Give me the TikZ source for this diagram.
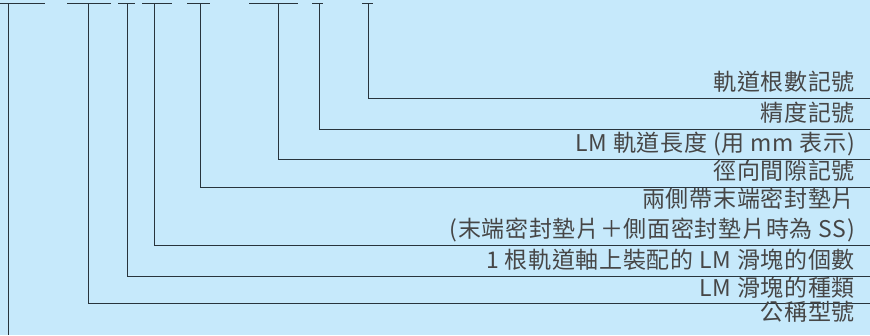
\documentclass[tikz,border=0pt]{standalone}
\usepackage{fontspec}
\newfontfamily\cjk[LetterSpace=3]{Noto Sans CJK TC}
\definecolor{bgblue}{RGB}{198,233,251}
\definecolor{linecol}{RGB}{40,52,60}
\definecolor{txtgray}{RGB}{70,70,70}
\begin{document}
\begin{tikzpicture}[x=1pt,y=-1pt,
  lbl/.style={anchor=base east, inner sep=0pt, text=txtgray, font=\cjk\fontsize{23}{28}\selectfont},
  ln/.style={draw=linecol, line width=1pt}]
\fill[bgblue] (0,0) rectangle (870,335);
\useasboundingbox (0,0) rectangle (870,335);
% top bars
\coordinate (s1l) at (0,3);   \coordinate (s1r) at (45,3);
\coordinate (s2l) at (67,3);  \coordinate (s2r) at (111,3);
\coordinate (s3l) at (118,3); \coordinate (s3r) at (135,3);
\coordinate (s4l) at (142,3); \coordinate (s4r) at (172,3);
\coordinate (s5l) at (187,3); \coordinate (s5r) at (210,3);
\coordinate (s6l) at (249,3); \coordinate (s6r) at (298,3);
\coordinate (s7l) at (312,3); \coordinate (s7r) at (323,3);
\coordinate (s8l) at (362,3); \coordinate (s8r) at (373,3);
\foreach \i in {1,...,8} {\draw[ln] (s\i l) -- (s\i r);}
% vertical tops
\coordinate (a1) at (8,3);
\coordinate (a2) at (88,3);
\coordinate (a3) at (127,3);
\coordinate (a4) at (154,3);
\coordinate (a5) at (200,3);
\coordinate (a6) at (278,3);
\coordinate (a7) at (319,3);
\coordinate (a8) at (368,3);
% right ends
\coordinate (b1) at (8,335);
\coordinate (b2) at (870,303);
\coordinate (b3) at (870,276);
\coordinate (b4) at (870,245);
\coordinate (b5) at (870,187);
\coordinate (b6) at (870,159);
\coordinate (b7) at (870,129);
\coordinate (b8) at (870,98);
\draw[ln] (a1) -- (b1);
\foreach \i in {2,...,8} {\draw[ln] (a\i) |- (b\i);}
% labels
\node[lbl] (l8) at (855,90) {軌道根數記號};
\node[lbl] (l7) at (855,121) {精度記號};
\node[lbl] (l6) at (855,151) {LM 軌道長度 (用 mm 表示)};
\node[lbl] (l5) at (855,179) {徑向間隙記號};
\node[lbl] (l4a) at (855,207) {兩側帶末端密封墊片};
\node[lbl] (l4b) at (855,237) {(末端密封墊片＋側面密封墊片時為 SS)};
\node[lbl] (l3) at (855,268) {1 根軌道軸上裝配的 LM 滑塊的個數};
\node[lbl] (l2) at (855,296) {LM 滑塊的種類};
\node[lbl] (l1) at (855,320) {公稱型號};
\end{tikzpicture}
\end{document}
